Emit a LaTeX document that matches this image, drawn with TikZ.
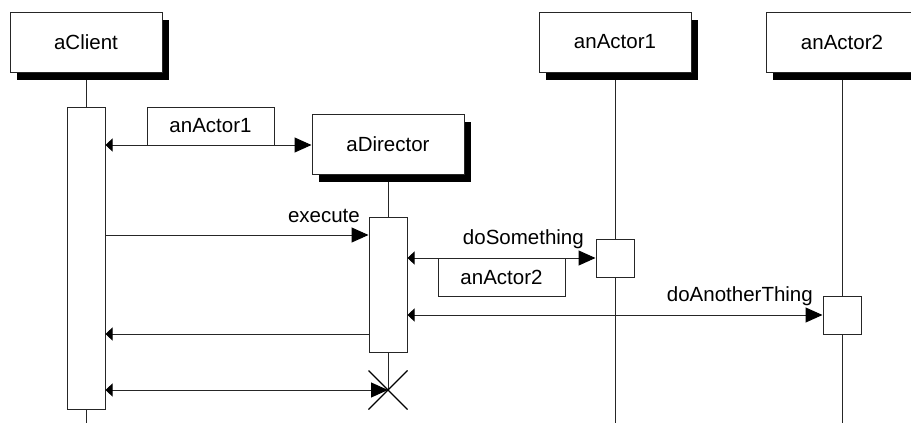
\documentclass[tikz,border=0pt]{standalone}
\usepackage{fontspec}
\setmainfont{Liberation Sans}
\usetikzlibrary{arrows.meta,shadows,calc}
\colorlet{lc}{black!85}
\tikzset{
  x=1pt, y=-1pt,
  txt/.style={font=\fontsize{20.5}{24}\selectfont, text=black},
  obj/.style={txt, draw=lc, fill=white, line width=1pt, minimum width=152pt, minimum height=60pt, inner sep=0pt,
    general shadow={shadow xshift=7pt, shadow yshift=-8pt, fill=black}},
  actbox/.style={draw=lc, fill=white, line width=1pt, minimum width=38pt, inner sep=0pt},
  labbox/.style={txt, draw=lc, fill=white, line width=1pt, minimum width=127pt, minimum height=38pt, inner sep=0pt},
  life/.style={draw=lc, line width=1pt},
  msg/.style={draw=lc, line width=1pt},
  bigtip/.tip={Triangle[length=17pt, width=15pt, color=black]},
  smalltip/.tip={Triangle[length=7pt, width=13pt, color=black]},
}
\begin{document}
\begin{tikzpicture}
\useasboundingbox (0,0) rectangle (911,423);
\begin{scope}
\clip (0,0) rectangle (911,423);
% lifelines
\draw[life] (86,72) -- (86,423);
\draw[life] (388,174) -- (388,390);
\draw[life] (615,72) -- (615,423);
\draw[life] (842,72) -- (842,423);
% objects
\node[obj] (client) at (86,42) {aClient};
\node[obj] (director) at (388,144) {aDirector};
\node[obj] (actor1) at (615,42) {anActor1};
\node[obj] (actor2) at (842,42) {anActor2};
% activations
\node[actbox, minimum height=302pt] (clientAct) at (86,258) {};
\node[actbox, minimum height=135pt] (dirAct) at (388,284.5) {};
\node[actbox, minimum height=38pt] (act1) at (615,258) {};
\node[actbox, minimum height=38pt] (act2) at (842,315) {};
% destruction
\coordinate (xend) at (388,390);
\draw[black, line width=1.4pt] ($(xend)+(-19.5,-19.5)$) -- ($(xend)+(19.5,19.5)$)
  ($(xend)+(-19.5,19.5)$) -- ($(xend)+(19.5,-19.5)$);
\end{scope}
% message label boxes
\node[labbox] (lab1) at (210.5,126) {anActor1};
\node[labbox] (lab2) at (501.5,277) {anActor2};
% messages
\draw[msg, {smalltip}-{bigtip}] (clientAct.east |- 0,145) -- (director.west |- 0,145);
\draw[msg, -{bigtip}] (clientAct.east |- 0,235) -- (dirAct.west |- 0,235);
\draw[msg, {smalltip}-{bigtip}] (dirAct.east |- act1.west) -- (act1.west);
\draw[msg, {smalltip}-{bigtip}] (dirAct.east |- act2.west) -- (act2.west);
\draw[msg, -{smalltip}] (dirAct.west |- 0,334) -- (clientAct.east |- 0,334);
\draw[msg, {smalltip}-{bigtip}] (clientAct.east |- xend) -- (xend);
% message names
\node[txt, anchor=base east, inner sep=0pt] (m1) at (360,222) {execute};
\node[txt, anchor=base east, inner sep=0pt] (m2) at (584,244.5) {doSomething};
\node[txt, anchor=base east, inner sep=0pt] (m3) at (813,301.5) {doAnotherThing};
\end{tikzpicture}
\end{document}
